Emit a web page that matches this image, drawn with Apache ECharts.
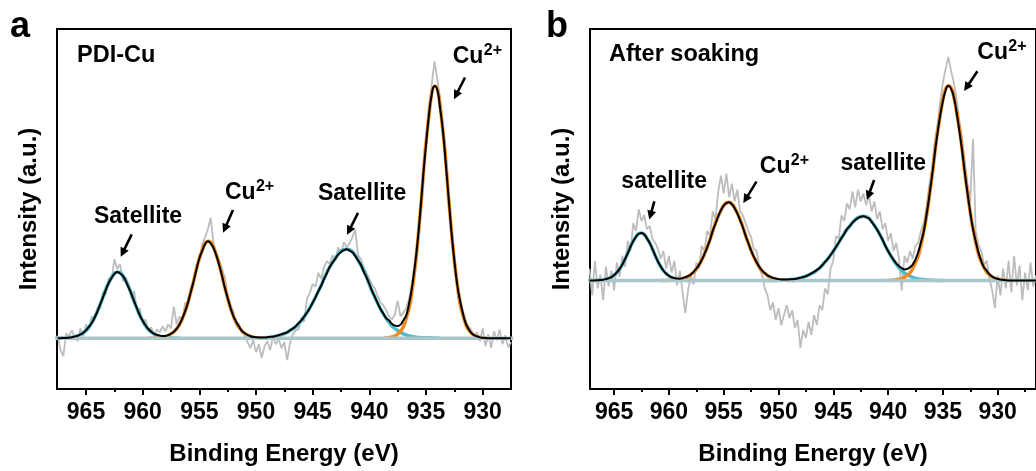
<!DOCTYPE html>
<html><head><meta charset="utf-8">
<script src="https://cdn.jsdelivr.net/npm/echarts@6/dist/echarts.min.js"></script>
<style>html,body{margin:0;padding:0;background:#fff}#c{width:1036px;height:471px}</style>
</head><body><div id="c"></div>
<script>
// ---------------- Panel a : PDI-Cu ----------------
const energyA = [
967.5,967.25,967,966.75, 966.5,966.25,966,965.75, 965.5,965.25,965,964.75, 964.5,964.25,964,963.75,
963.5,963.25,963,962.75, 962.5,962.25,962,961.75, 961.5,961.25,961,960.75, 960.5,960.25,960,959.75,
959.5,959.25,959,958.75, 958.5,958.25,958,957.75, 957.5,957.25,957,956.75, 956.5,956.25,956,955.75,
955.5,955.25,955,954.75, 954.5,954.25,954,953.75, 953.5,953.25,953,952.75, 952.5,952.25,952,951.75,
951.5,951.25,951,950.75, 950.5,950.25,950,949.75, 949.5,949.25,949,948.75, 948.5,948.25,948,947.75,
947.5,947.25,947,946.75, 946.5,946.25,946,945.75, 945.5,945.25,945,944.75, 944.5,944.25,944,943.75,
943.5,943.25,943,942.75, 942.5,942.25,942,941.75, 941.5,941.25,941,940.75, 940.5,940.25,940,939.75,
939.5,939.25,939,938.75, 938.5,938.25,938,937.75, 937.5,937.25,937,936.75, 936.5,936.25,936,935.75,
935.5,935.25,935,934.75, 934.5,934.25,934,933.75, 933.5,933.25,933,932.75, 932.5,932.25,932,931.75,
931.5,931.25,931,930.75, 930.5,930.25,930,929.75, 929.5,929.25,929,928.75, 928.5,928.25,928,927.75,
927.5];
const rawA = [
3,-12,-18,5, 2,8,1,-3, 10,2,14,9, 22,18,31,30,
47,44,61,58, 80,70,75,58, 62,55,41,48, 28,30,16,19,
8,11,3,9, 6,12,7,14, 10,32,14,22, 18,36,33,52,
55,74,78,95, 102,110,122,96, 86,79,70,62, 44,34,27,14,
15,6,3,-4, -10,-2,-14,-6, -20,-8,-3,-12, 2,-6,-1,-10,
-4,-22,-5,4, 8,9,21,17, 40,46,55,52, 66,60,72,78,
75,84,78,92, 86,97,92,96, 102,110,84,80, 72,66,60,54,
50,42,36,33, 28,22,19,24, 38,22,26,30, 40,55,76,100,
132,168,200,232, 256,280,262,240, 214,180,146,110, 84,58,42,28,
18,12,8,2, 6,-3,10,-8, 4,-10,7,-2, 9,-6,3,-9,
-4];
const fitA = [
0,0.1,0.2,0.3, 0.6,1.0,1.7,2.6, 3.9,5.4,8.2,11.4, 15.4,20.8,26.8,34.2,
41.5,48.9,55.9,61, 65,67,65.7,63, 58,51.6,45,37.2, 30.2,23.1,17.8,13.1,
9.4,6.7,4.6,3.5, 2.7,2.2,2.4,3.2, 4.8,6.7,9.8,14.2, 20.1,27.4,36.3,47,
57.8,69.6,80.9,88.2, 95,98,96,91.1, 83.8,74,63.2,51, 40.7,30.9,22.5,16.7,
11.8,7.5,5.3,3.4, 2.0,1.3,1.1,0.8, 0.7,0.7,1.0,1.4, 1.6,2.3,3.1,4.1,
5.0,6.0,8.1,9.9, 12.2,15.3,18,22, 26.1,30.6,36,41.4, 47.7,53.1,59.9,65.7,
72,76.5,80.6,84.6, 87.3,89.1,90,88.7, 86.9,83.3,78.8,74.3, 67.5,61.7,54.9,47.7,
41.4,35.1,29.3,24.8, 20.2,17.9,14.4,12.8, 12.4,13.8,18.2,22.9, 34.6,50.5,71.5,96.7,
128.3,163.8,195.4,224.7, 246,255,251,232, 209,176,141.5,107, 79,54.8,38.3,25.5,
15.3,9.7,5.4,3.1, 1.9,0.9,0.5,0.2, 0.1,0,0,0, 0,0,0,0,
0];
// fitted components [energy, intensity]
const cuA1 = [[938.75,0],[938.1,1.0],[937.45,4.6],[936.8,17.9],[936.15,54.8],[935.5,127.5],[934.85,214.2],[934.2,255],[933.55,214.2],[932.9,127.5],[932.25,54.8],[931.6,17.9],[930.95,4.6],[930.3,1.0],[929.65,0]];
const satA1 = [[951.1,0],[949.8,0.4],[948.5,1.6],[947.2,6.3],[945.9,19.4],[944.6,45],[943.3,75.6],[942,90],[940.83,75.6],[939.65,45],[938.48,19.4],[937.3,6.3],[936.13,1.6],[934.95,0.4],[933.78,0]];
const cuA2 = [[959.45,0],[958.7,0.4],[957.95,1.8],[957.2,6.9],[956.45,21.1],[955.7,49],[954.95,82.3],[954.2,98],[953.45,82.3],[952.7,49],[951.95,21.1],[951.2,6.9],[950.45,1.8],[949.7,0.4],[948.95,0]];
const satA2 = [[967.7,0],[966.91,0.3],[966.13,1.2],[965.34,4.7],[964.56,14.4],[963.77,33.5],[962.99,56.3],[962.2,67],[961.42,56.3],[960.63,33.5],[959.85,14.4],[959.06,4.7],[958.28,1.2],[957.49,0.3],[956.71,0]];
const baseA = [[967.7,0],[927.3,0]];

// ---------------- Panel b : After soaking ----------------
const energyB = [
967.25,967,966.75,966.5, 966.25,966,965.75,965.5, 965.25,965,964.75,964.5, 964.25,964,963.75,963.5,
963.25,963,962.75,962.5, 962.25,962,961.75,961.5, 961.25,961,960.75,960.5, 960.25,960,959.75,959.5,
959.25,959,958.75,958.5, 958.25,958,957.75,957.5, 957.25,957,956.75,956.5, 956.25,956,955.75,955.5,
955.25,955,954.75,954.5, 954.25,954,953.75,953.5, 953.25,953,952.75,952.5, 952.25,952,951.75,951.5,
951.25,951,950.75,950.5, 950.25,950,949.75,949.5, 949.25,949,948.75,948.5, 948.25,948,947.75,947.5,
947.25,947,946.75,946.5, 946.25,946,945.75,945.5, 945.25,945,944.75,944.5, 944.25,944,943.75,943.5,
943.25,943,942.75,942.5, 942.25,942,941.75,941.5, 941.25,941,940.75,940.5, 940.25,940,939.75,939.5,
939.25,939,938.75,938.5, 938.25,938,937.75,937.5, 937.25,937,936.75,936.5, 936.25,936,935.75,935.5,
935.25,935,934.75,934.5, 934.25,934,933.75,933.5, 933.25,933,932.75,932.5, 932.25,932,931.75,931.5,
931.25,931,930.75,930.5, 930.25,930,929.75,929.5, 929.25,929,928.75,928.5, 928.25,928,927.75,927.5,
927.25,927,926.75,926.5];
const rawB = [
12,-15,20,-8, 6,-20,14,-6, 10,-10,18,4, 25,14,40,30,
58,50,72,60, 66,52,55,42, 38,32,22,30, 12,25,8,20,
-5,10,-12,-33, -10,5,-4,18, 12,35,30,50, 45,70,62,90,
106,88,108,84, 98,80,92,70, 66,58,50,44, 32,30,14,5,
-8,-15,-30,-22, -40,-28,-45,-35, -25,-38,-30,-48, -40,-68,-50,-58,
-42,-55,-35,-45, -25,-30,-8,-14, 12,20,45,42, 66,60,78,72,
90,74,92,80, 88,76,86,70, 80,62,70,52, 58,40,48,30,
38,22,-10,25, 18,30,22,35, 38,50,58,74, 96,112,140,156,
180,200,214,226, 212,200,184,162, 145,120,98,80, 143,50,36,30,
16,20,2,-10, -28,5,-15,12, -8,20,-12,25, -5,15,-20,8,
-10,18,-6,5];
const fitB = [
0,0.1,0.1,0.2, 0.4,0.8,1.4,2.3, 3.4,5.5,8.2,11.8, 16.1,21.8,27.6,34.1,
39.8,44.2,47.3,48, 46.6,42.5,37.9,31.7, 25.4,19.2,14.4,10.1, 7.0,4.8,3.3,2.5,
2.0,1.9,2.4,3.4, 4.5,6.1,8.7,11.9, 15.8,20.9,26.9,33.6, 41.1,50.2,57.3,64.8,
71.1,75.8,78.2,79, 77,73.1,67.9,60.8, 53.7,45.4,37.9,30.4, 24.1,18.6,13.8,10.3,
7.5,5.2,3.9,2.7, 1.9,1.4,1.1,1.0, 1.0,1.2,1.2,1.6, 2.1,2.8,3.6,4.3,
5.7,7.2,8.8,10.7, 12.7,15.6,18.9,21.8, 25.7,29.6,33.8,38.4, 42.9,47.1,52,54.9,
58.5,61.1,63.1,64.4, 65,64,62.7,59.2, 55.6,51.4,46.2,41.3, 35.1,29.9,25.3,21.1,
17.4,14.5,12.6,11.2, 11.7,13.4,16.1,21.3, 28.5,38.6,49.3,65.7, 84.2,104.7,127.3,147.8,
166.5,181.2,192.1,197, 194,185.2,170.4,151.7, 132,109.3,88.7,69, 52.2,39.4,28.6,19.7,
13.4,9.9,6.3,3.9, 2.6,1.6,0.9,0.6, 0.3,0.1,0,0, 0,0,0,0,
0,0,0,0];
const cuB1 = [[940.07,0],[939.27,0.8],[938.47,3.5],[937.67,13.8],[936.87,42.4],[936.07,98.5],[935.27,165.5],[934.47,197],[933.67,165.5],[932.87,98.5],[932.07,42.4],[931.27,13.8],[930.47,3.5],[929.67,0.8],[928.87,0]];
const satB1 = [[951.33,0],[950.03,0.3],[948.73,1.2],[947.43,4.6],[946.13,14],[944.83,32.5],[943.53,54.6],[942.23,65],[941.18,54.6],[940.13,32.5],[939.08,14],[938.03,4.6],[936.98,1.2],[935.93,0.3],[934.88,0]];
const cuB2 = [[960.69,0],[959.81,0.3],[958.94,1.4],[958.06,5.5],[957.19,17],[956.31,39.5],[955.44,66.4],[954.56,79],[953.69,66.4],[952.81,39.5],[951.94,17],[951.06,5.5],[950.19,1.4],[949.31,0.3],[948.44,0]];
const satB2 = [[967.28,0],[966.6,0.2],[965.93,0.9],[965.25,3.4],[964.58,10.3],[963.9,24],[963.23,40.3],[962.55,48],[961.88,40.3],[961.2,24],[960.53,10.3],[959.85,3.4],[959.18,0.9],[958.5,0.2],[957.83,0]];
const baseB = [[967.4,0],[926.3,0]];

// ---------------- ticks & annotations ----------------
const majorTicks = [965,960,955,950,945,940,935,930];
const minorTicksA = [962.5,957.5,952.5,947.5,942.5,937.5,932.5];
const minorTicksB = [962.5,957.5,952.5,947.5,942.5,937.5,932.5,927.5];
const xTitle = 'Binding Energy (eV)';
const yTitle = 'Intensity (a.u.)';
// labels anchored in data coordinates [energy, intensity]
const labelsA = [
  {text:'Cu', sup:'2+', E:932.64, I:284.7},
  {text:'Cu', sup:'2+', E:952.74, I:147.2},
  {text:'Satellite', E:944.53, I:146.2},
  {text:'Satellite', E:964.3, I:122.7}
];
const arrowsA = [[931.56,263.7,932.53,241.7],[952.03,129.7,952.91,106.7],[941.0,126.7,941.97,104.7],[960.97,105,961.94,82.4]];
const labelsB = [
  {text:'Cu', sup:'2+', E:931.85, I:230.8},
  {text:'Cu', sup:'2+', E:951.7, I:115.3},
  {text:'satellite', E:944.34, I:118.3},
  {text:'satellite', E:964.34, I:100}
];
const arrowsB = [[931.85,211.6,933.06,191.6],[952.01,100,953.21,78.3],[941.27,101.6,941.93,81.6],[961.33,80,961.79,61.6]];

if (energyA.length !== rawA.length || energyA.length !== fitA.length) throw new Error('A length mismatch ' + energyA.length + ' ' + rawA.length + ' ' + fitA.length);
if (energyB.length !== rawB.length || energyB.length !== fitB.length) throw new Error('B length mismatch ' + energyB.length + ' ' + rawB.length + ' ' + fitB.length);

const FONT = "'Liberation Sans', Arial, Helvetica, sans-serif";
const ORANGE = '#f28a1e', CYAN = '#4bbccb', GRAY = '#bdbdbd', BASE = '#aac6ca';
const zip = (xs, ys) => xs.map((x, i) => [x, ys[i]]);

function xMain(gi, min, max) {
  return {
    type:'value', gridIndex:gi, min, max, inverse:true, position:'bottom',
    axisLine:{show:true, onZero:false, lineStyle:{color:'#000', width:2}},
    axisTick:{show:true, customValues:majorTicks, length:6, lineStyle:{color:'#000', width:2}},
    axisLabel:{show:true, customValues:majorTicks, margin:12, color:'#000', fontSize:23, fontWeight:'bold', fontFamily:FONT},
    splitLine:{show:false},
    name:xTitle, nameLocation:'middle', nameGap:53,
    nameTextStyle:{fontSize:24, fontWeight:'bold', fontFamily:FONT, color:'#000'}
  };
}
function xMinor(gi, min, max, ticks) {
  return {
    type:'value', gridIndex:gi, min, max, inverse:true, position:'bottom',
    axisLine:{show:false, onZero:false},
    axisTick:{show:true, customValues:ticks, length:3, lineStyle:{color:'#000', width:2}},
    axisLabel:{show:false}, splitLine:{show:false}
  };
}
function yAx(gi, min, max) {
  return {
    type:'value', gridIndex:gi, min, max,
    axisLine:{show:true, onZero:false, lineStyle:{color:'#000', width:2}},
    axisTick:{show:false}, axisLabel:{show:false}, splitLine:{show:false},
    name:yTitle, nameLocation:'middle', nameGap:16, nameRotate:90,
    nameTextStyle:{fontSize:24, fontWeight:'bold', fontFamily:FONT, color:'#000'}
  };
}
function ln(xi, yi, data, color, width, z, smooth) {
  return {type:'line', xAxisIndex:xi, yAxisIndex:yi, data, symbol:'none', showSymbol:false,
    smooth:!!smooth, lineStyle:{color, width}, z, silent:true};
}

const series = [
  ln(0,0, zip(energyA, rawA), GRAY, 1.8, 2, false),
  ln(0,0, satA1, CYAN, 3.5, 3, true),
  ln(0,0, satA2, CYAN, 3.5, 3, true),
  ln(0,0, cuA1, ORANGE, 3.5, 3, true),
  ln(0,0, cuA2, ORANGE, 3.5, 3, true),
  ln(0,0, baseA, BASE, 3.5, 4, false),
  ln(0,0, zip(energyA, fitA), '#000', 2, 5, true),
  ln(2,1, zip(energyB, rawB), GRAY, 1.8, 2, false),
  ln(2,1, satB1, CYAN, 3.5, 3, true),
  ln(2,1, satB2, CYAN, 3.5, 3, true),
  ln(2,1, cuB1, ORANGE, 3.5, 3, true),
  ln(2,1, cuB2, ORANGE, 3.5, 3, true),
  ln(2,1, baseB, BASE, 3.5, 4, false),
  ln(2,1, zip(energyB, fitB), '#000', 2, 5, true)
];

const chart = echarts.init(document.getElementById('c'), null, {renderer:'canvas'});
chart.setOption({
  animation:false,
  backgroundColor:'#fff',
  grid:[
    {left:57, top:29, width:454, height:364, show:true, borderColor:'#000', borderWidth:2, backgroundColor:'transparent'},
    {left:590, top:29, width:451, height:364, show:true, borderColor:'#000', borderWidth:2, backgroundColor:'transparent'}
  ],
  xAxis:[xMain(0, 927.5, 967.56), xMinor(0, 927.5, 967.56, minorTicksA), xMain(1, 926.5, 967.2), xMinor(1, 926.5, 967.2, minorTicksB)],
  yAxis:[yAx(0, -51.3, 312.7), yAx(1, -109.7, 254.3)],
  series
});

const g = [
  {type:'text', x:10, y:27.5, style:{text:'a', fontSize:36, fontWeight:'bold', fontFamily:FONT, fill:'#000', align:'left', verticalAlign:'middle'}},
  {type:'text', x:546, y:27.5, style:{text:'b', fontSize:36, fontWeight:'bold', fontFamily:FONT, fill:'#000', align:'left', verticalAlign:'middle'}},
  {type:'text', x:77, y:56, style:{text:'PDI-Cu', fontSize:23.5, fontWeight:'bold', fontFamily:FONT, fill:'#000', align:'left', verticalAlign:'middle'}},
  {type:'text', x:609, y:55, style:{text:'After soaking', fontSize:23.5, fontWeight:'bold', fontFamily:FONT, fill:'#000', align:'left', verticalAlign:'middle'}}
];
function addPanel(si, labels, arrows) {
  labels.forEach(l => {
    const p = chart.convertToPixel({seriesIndex:si}, [l.E, l.I]);
    g.push({type:'text', z:100, x:p[0], y:p[1], style:{text:l.text, fontSize:23, fontWeight:'bold', fontFamily:FONT, fill:'#000', align:'left', verticalAlign:'middle'}});
    if (l.sup) g.push({type:'text', z:100, x:p[0] + 31, y:p[1] - 6, style:{text:l.sup, fontSize:16, fontWeight:'bold', fontFamily:FONT, fill:'#000', align:'left', verticalAlign:'middle'}});
  });
  arrows.forEach(a => {
    const p1 = chart.convertToPixel({seriesIndex:si}, [a[0], a[1]]);
    const p2 = chart.convertToPixel({seriesIndex:si}, [a[2], a[3]]);
    const dx = p2[0] - p1[0], dy = p2[1] - p1[1], L = Math.hypot(dx, dy);
    const ux = dx / L, uy = dy / L, nx = -uy, ny = ux;
    const hl = 9, hw = 4.5;
    g.push({type:'line', z:100, shape:{x1:p1[0], y1:p1[1], x2:p2[0] - ux * (hl - 2), y2:p2[1] - uy * (hl - 2)}, style:{stroke:'#000', lineWidth:2.6}});
    g.push({type:'polygon', z:100, shape:{points:[[p2[0], p2[1]], [p2[0] - ux * hl + nx * hw, p2[1] - uy * hl + ny * hw], [p2[0] - ux * hl - nx * hw, p2[1] - uy * hl - ny * hw]]}, style:{fill:'#000'}});
  });
}
addPanel(0, labelsA, arrowsA);
addPanel(7, labelsB, arrowsB);
chart.setOption({graphic:g});
</script>
</body></html>
